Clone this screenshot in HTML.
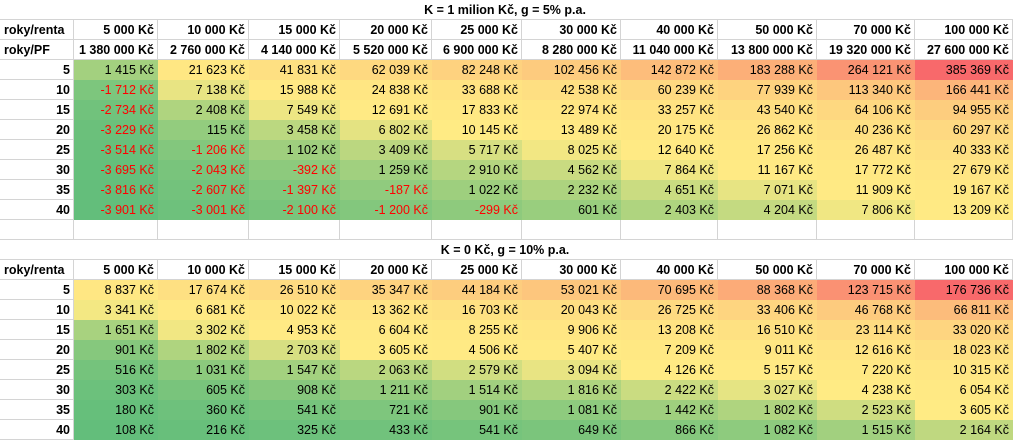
<!DOCTYPE html>
<html><head><meta charset="utf-8"><style>
body{margin:0;background:#fff;width:1013px;height:440px;overflow:hidden;font-family:"Liberation Sans",Arial,sans-serif;font-size:12.5px;}
.c{position:absolute;box-sizing:border-box;height:20px;line-height:20px;border-right:1px solid #d4d4d4;border-bottom:1px solid #d4d4d4;text-align:right;padding-right:3px;white-space:nowrap;color:#000}
.b{font-weight:bold}
.l{text-align:left;padding-left:4px}
.t{text-align:center;font-weight:bold;border-right:none}
.n{color:#f00}
</style></head><body><div id="r"></div>
<script>
const W=[74,84,91,91,92,90,99,97,99,98,98];
const X=[0];for(const w of W)X.push(X[X.length-1]+w);
const rents=[5000,10000,15000,20000,25000,30000,40000,50000,70000,100000];
const T1=[[1415,21623,41831,62039,82248,102456,142872,183288,264121,385369],
[-1712,7138,15988,24838,33688,42538,60239,77939,113340,166441],
[-2734,2408,7549,12691,17833,22974,33257,43540,64106,94955],
[-3229,115,3458,6802,10145,13489,20175,26862,40236,60297],
[-3514,-1206,1102,3409,5717,8025,12640,17256,26487,40333],
[-3695,-2043,-392,1259,2910,4562,7864,11167,17772,27679],
[-3816,-2607,-1397,-187,1022,2232,4651,7071,11909,19167],
[-3901,-3001,-2100,-1200,-299,601,2403,4204,7806,13209]];
const T2=[[8837,17674,26510,35347,44184,53021,70695,88368,123715,176736],
[3341,6681,10022,13362,16703,20043,26725,33406,46768,66811],
[1651,3302,4953,6604,8255,9906,13208,16510,23114,33020],
[901,1802,2703,3605,4506,5407,7209,9011,12616,18023],
[516,1031,1547,2063,2579,3094,4126,5157,7220,10315],
[303,605,908,1211,1514,1816,2422,3027,4238,6054],
[180,360,541,721,901,1081,1442,1802,2523,3605],
[108,216,325,433,541,649,866,1082,1515,2164]];
const fmt=v=>{const s=Math.abs(v).toString().replace(/\B(?=(\d{3})+(?!\d))/g,' ');return (v<0?'-':'')+s+' Kč';};
let h='';
function cell(col,y,txt,cls,bg){const st=`left:${X[col]}px;top:${y}px;width:${W[col]}px;`+(bg?`background:${bg};border-color:${bg};`:'');h+=`<div class="c ${cls||''}" style="${st}">${txt}</div>`;}
function title(y,txt){h+=`<div class="c t" style="left:0;top:${y}px;width:1013px;">${txt}</div>`;}
function scale(T){const all=T.flat().slice().sort((a,b)=>a-b);const mn=all[0],mx=all[all.length-1];
 const n=all.length,p=(n-1)*0.5,md=all[Math.floor(p)]+(all[Math.ceil(p)]-all[Math.floor(p)])*(p-Math.floor(p));
 const G=[0x63,0xBE,0x7B],Y=[0xFF,0xEB,0x84],R=[0xF8,0x69,0x6B];
 return v=>{let a,b,t;if(v<=md){a=G;b=Y;t=(v-mn)/(md-mn);}else{a=Y;b=R;t=(v-md)/(mx-md);}
  t=Math.max(0,Math.min(1,t));return 'rgb('+a.map((x,i)=>Math.round(x+(b[i]-x)*t)).join(',')+')';};}
function table(y0,tit,T,pf){title(y0,tit);let y=y0+20;
 cell(0,y,'roky/renta','b l');rents.forEach((r,i)=>cell(i+1,y,fmt(r),'b'));y+=20;
 if(pf){cell(0,y,'roky/PF','b l');rents.forEach((r,i)=>cell(i+1,y,fmt(r*276),'b'));y+=20;}
 const sc=scale(T);
 T.forEach((row,ri)=>{cell(0,y,String((ri+1)*5),'b');row.forEach((v,i)=>cell(i+1,y,fmt(v),v<0?'n':'',sc(v)));y+=20;});
 return y;}
let y=table(0,'K = 1 milion Kč, g = 5% p.a.',T1,true);
for(let i=0;i<11;i++)cell(i,y,'');y+=20;
table(y,'K = 0 Kč, g = 10% p.a.',T2,false);
document.getElementById('r').innerHTML=h;
</script></body></html>
